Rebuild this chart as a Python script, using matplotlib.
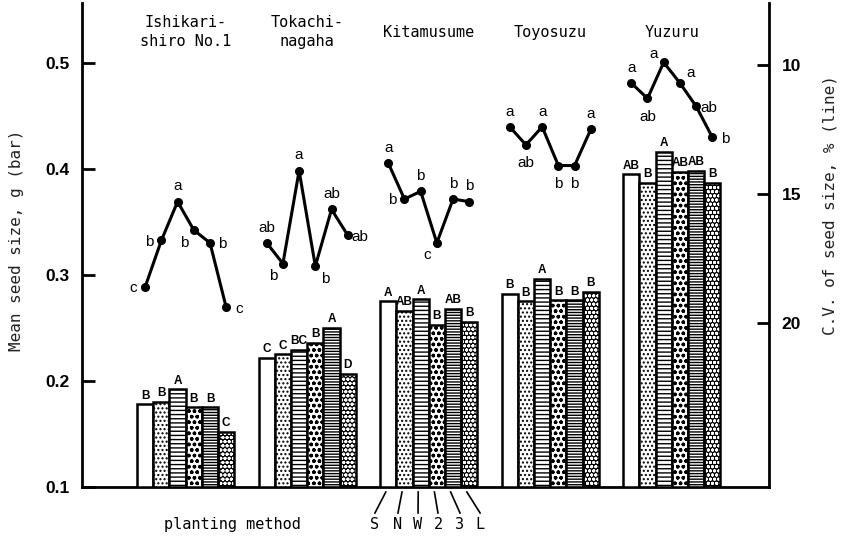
import matplotlib
matplotlib.use("Agg")
import matplotlib.pyplot as plt
import matplotlib.transforms as mtransforms

# ---------------- data ----------------
varieties = ["Ishikari-\nshiro No.1", "Tokachi-\nnagaha", "Kitamusume", "Toyosuzu", "Yuzuru"]
methods = ["S", "N", "W", "2", "3", "L"]

# mean seed size, g (bars)
ishikari_size = [0.178, 0.180, 0.192, 0.175, 0.175, 0.152]
tokachi_size = [0.222, 0.225, 0.229, 0.236, 0.250, 0.207]
kitamusume_size = [0.275, 0.266, 0.277, 0.253, 0.268, 0.256]
toyosuzu_size = [0.282, 0.275, 0.296, 0.276, 0.276, 0.284]
yuzuru_size = [0.395, 0.387, 0.416, 0.397, 0.398, 0.387]

# significance letters for bars
ishikari_bar_sig = ["B", "B", "A", "B", "B", "C"]
tokachi_bar_sig = ["C", "C", "BC", "B", "A", "D"]
kitamusume_bar_sig = ["A", "AB", "A", "B", "AB", "B"]
toyosuzu_bar_sig = ["B", "B", "A", "B", "B", "B"]
yuzuru_bar_sig = ["AB", "B", "A", "AB", "AB", "B"]

# C.V. of seed size, % (lines)
ishikari_cv = [18.6, 16.8, 15.3, 16.4, 16.9, 19.4]
tokachi_cv = [16.9, 17.7, 14.1, 17.8, 15.6, 16.6]
kitamusume_cv = [13.8, 15.2, 14.9, 16.9, 15.2, 15.3]
toyosuzu_cv = [12.4, 13.1, 12.4, 13.9, 13.9, 12.5]
yuzuru_cv = [10.7, 11.3, 9.9, 10.7, 11.6, 12.8]

# significance letters for lines
ishikari_cv_sig = ["c", "b", "a", "b", "b", "c"]
tokachi_cv_sig = ["ab", "b", "a", "b", "ab", "ab"]
kitamusume_cv_sig = ["a", "b", "b", "c", "b", "b"]
toyosuzu_cv_sig = ["a", "ab", "a", "b", "b", "a"]
yuzuru_cv_sig = ["a", "ab", "a", "a", "ab", "b"]

left_ticks = [0.1, 0.2, 0.3, 0.4, 0.5]
right_ticks = [10, 15, 20]

sizes = [ishikari_size, tokachi_size, kitamusume_size, toyosuzu_size, yuzuru_size]
bar_sigs = [ishikari_bar_sig, tokachi_bar_sig, kitamusume_bar_sig, toyosuzu_bar_sig, yuzuru_bar_sig]
cvs = [ishikari_cv, tokachi_cv, kitamusume_cv, toyosuzu_cv, yuzuru_cv]
cv_sigs = [ishikari_cv_sig, tokachi_cv_sig, kitamusume_cv_sig, toyosuzu_cv_sig, yuzuru_cv_sig]

# label placement for line letters (style only)
cv_pos = [
    ["l", "l", "a", "bl", "r", "r"],
    ["a", "bl", "a", "br", "a", "r"],
    ["a", "l", "a", "bl", "a", "a"],
    ["a", "b", "a", "b", "b", "a"],
    ["a", "b", "al", "ar", "r", "r"],
]
offsets = {"a": (0, 11), "b": (0, -13), "l": (-9, -1), "r": (9, -1),
           "bl": (-7, -9), "br": (7, -9), "al": (-7, 6), "ar": (8, 7)}

# ---------------- figure ----------------
W, H = 843, 539
fig = plt.figure(figsize=(W / 100, H / 100), dpi=100)
axL, axR, axB, axT = 82, 769, 487, 3
ax = fig.add_axes([axL / W, 1 - axB / H, (axR - axL) / W, (axB - axT) / H])

mono = "DejaVu Sans Mono"
sans = ["Liberation Sans", "DejaVu Sans"]

GROUP = 7.5
ax.set_xlim(-3.4, 39.0)
ax.set_ylim(0.1, 0.5566)

styles = [
    dict(facecolor="white", hatch=None),
    dict(facecolor="white", hatch="...."),
    dict(facecolor="white", hatch="----"),
    dict(facecolor="white", hatch="ooo"),
    dict(facecolor="white", hatch="------"),
    dict(facecolor="black", hatch="oooo"),
]

tb = mtransforms.blended_transform_factory(ax.transData, ax.transAxes)
for g, vals in enumerate(sizes):
    xs = [g * GROUP + j + 0.5 for j in range(len(vals))]
    for j, (x, v) in enumerate(zip(xs, vals)):
        st = styles[j]
        if j == 5:
            ax.bar(x, v - 0.1, bottom=0.1, width=1.0, facecolor="black",
                   edgecolor="white", hatch=st["hatch"], linewidth=0, zorder=2)
            ax.bar(x, v - 0.1, bottom=0.1, width=1.0, facecolor="none",
                   edgecolor="black", linewidth=1.8, zorder=3)
        else:
            ax.bar(x, v - 0.1, bottom=0.1, width=1.0, facecolor=st["facecolor"],
                   edgecolor="black", hatch=st["hatch"], linewidth=1.8, zorder=3)
        ax.annotate(bar_sigs[g][j], (x, v), xytext=(0, 2), textcoords="offset points",
                    ha="center", va="bottom", fontsize=8.5, fontweight="bold",
                    family=sans, zorder=5)
    # variety titles
    ax.text(g * GROUP + 3, 0.940, varieties[g], transform=tb,
            ha="center", va="center", fontsize=11, family=mono, linespacing=1.35)

ax.set_xticks([])
ax.set_yticks(left_ticks)
ax.set_yticklabels([f"{t:.1f}" for t in left_ticks], fontweight="bold", fontsize=12.5,
                   family=sans)
ax.tick_params(axis="y", direction="in", length=9, width=2, pad=9)
for s in ["top", "right"]:
    ax.spines[s].set_visible(False)
for s in ["left", "bottom"]:
    ax.spines[s].set_linewidth(2)

ax2 = ax.twinx()
ax2.set_ylim(26.36, 7.60)
for g, vals in enumerate(cvs):
    xs = [g * GROUP + j + 0.5 for j in range(len(vals))]
    ax2.plot(xs, vals, color="black", lw=2.2, marker="o", markersize=5.5, zorder=4)
    for j, (x, v) in enumerate(zip(xs, vals)):
        dx, dy = offsets[cv_pos[g][j]]
        ax2.annotate(cv_sigs[g][j], (x, v), xytext=(dx, dy), textcoords="offset points",
                     ha="center", va="center", fontsize=11, family=sans)

ax2.set_yticks(right_ticks)
ax2.set_yticklabels([str(t) for t in right_ticks], fontweight="bold", fontsize=12.5,
                    family=sans)
ax2.tick_params(axis="y", direction="in", length=9, width=2, pad=9)
for s in ["top", "left", "bottom"]:
    ax2.spines[s].set_visible(False)
ax2.spines["right"].set_linewidth(2)

# axis titles
fig.text(17 / W, 1 - 240 / H, "Mean seed size, g (bar)", rotation=90, ha="center",
         va="center", fontsize=11.5, family=mono, color="#222")
fig.text(830 / W, 1 - 205 / H, "C.V. of seed size, % (line)", rotation=90, ha="center",
         va="center", fontsize=11.5, family=mono, color="#222")

# planting-method key under Kitamusume
letter_off = [-0.82, -0.4, -0.16, 0.07, 0.43, 0.67]
for j, m in enumerate(methods):
    xc = 2 * GROUP + j + 0.5
    ax.plot([xc - 0.15, xc + letter_off[j]], [-0.0103, -0.0537], transform=tb,
            clip_on=False, color="black", lw=1.2)
    ax.text(xc + letter_off[j], -0.0785, m, transform=tb, ha="center", va="center",
            fontsize=11, family=mono)
fig.text(232 / W, 1 - 524 / H, "planting method", ha="center", va="center",
         fontsize=11, family=mono)

fig.savefig("out.png", dpi=100)
